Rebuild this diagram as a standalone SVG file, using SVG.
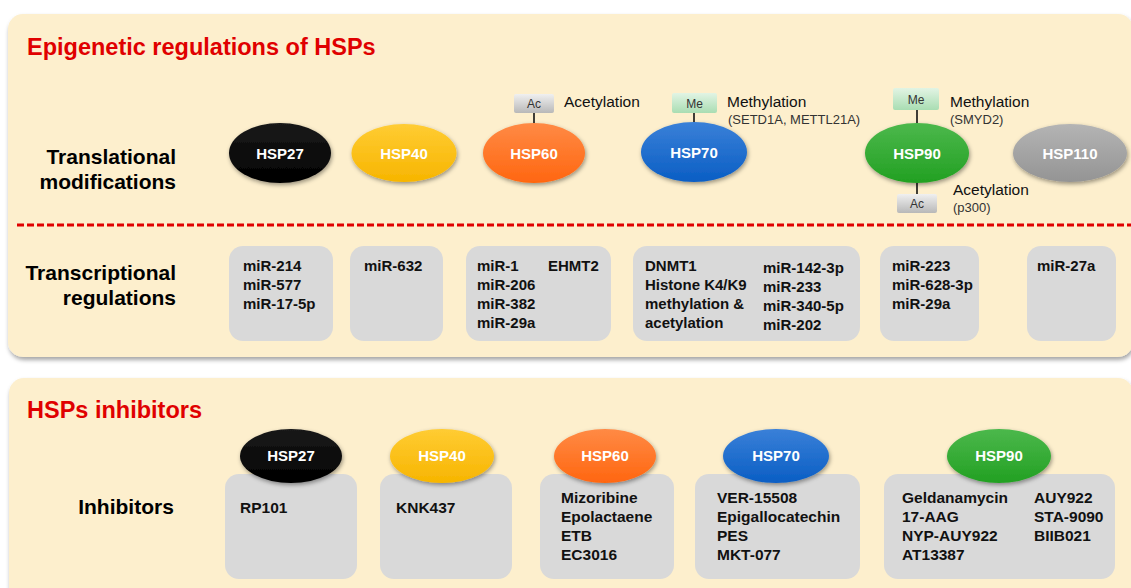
<svg xmlns="http://www.w3.org/2000/svg" width="1131" height="588" viewBox="0 0 1131 588">
<defs>
  <style>
    text { font-family: "Liberation Sans", Arial, sans-serif; }
    .title { font-size: 23.5px; font-weight: bold; fill: #E00000; }
    .row { font-size: 21px; font-weight: bold; fill: #000; text-anchor: end; }
    .hsp { font-size: 15px; font-weight: bold; fill: #fff; text-anchor: middle; }
    .box { fill: #D9D9D9; }
    .t1 { font-size: 15px; font-weight: bold; fill: #111; }
    .t2 { font-size: 15.5px; font-weight: bold; fill: #111; }
    .ann { font-size: 15.5px; fill: #111; }
    .sub { font-size: 13px; fill: #333; }
    .tag { font-size: 12px; fill: #333; text-anchor: middle; }
    .conn { stroke: #111; stroke-width: 1.6; fill: none; }
    .panel { fill: #FDEFCD; }
  </style>
  <filter id="pshadow" x="-5%" y="-5%" width="110%" height="115%">
    <feDropShadow dx="1" dy="3" stdDeviation="2" flood-color="#000" flood-opacity="0.35"/>
  </filter>
  <filter id="eshadow" x="-20%" y="-20%" width="140%" height="150%">
    <feDropShadow dx="1" dy="2" stdDeviation="2" flood-color="#000" flood-opacity="0.4"/>
  </filter>
  <linearGradient id="gBlack" x1="0" y1="0" x2="0" y2="1"><stop offset="0" stop-color="#1a1a1a"/><stop offset="1" stop-color="#000"/></linearGradient>
  <linearGradient id="gYellow" x1="0" y1="0" x2="0" y2="1"><stop offset="0" stop-color="#FFCC33"/><stop offset="1" stop-color="#F7B500"/></linearGradient>
  <linearGradient id="gOrange" x1="0" y1="0" x2="0" y2="1"><stop offset="0" stop-color="#FF8A45"/><stop offset="1" stop-color="#FF6610"/></linearGradient>
  <linearGradient id="gBlue" x1="0" y1="0" x2="0" y2="1"><stop offset="0" stop-color="#3A80D8"/><stop offset="1" stop-color="#0A5EC4"/></linearGradient>
  <linearGradient id="gGreen" x1="0" y1="0" x2="0" y2="1"><stop offset="0" stop-color="#4CB84C"/><stop offset="1" stop-color="#22A022"/></linearGradient>
  <linearGradient id="gGray" x1="0" y1="0" x2="0" y2="1"><stop offset="0" stop-color="#B4B4B4"/><stop offset="1" stop-color="#949494"/></linearGradient>
  <linearGradient id="gAc" x1="0" y1="0" x2="0" y2="1"><stop offset="0" stop-color="#F0F0F0"/><stop offset="1" stop-color="#B8B8B8"/></linearGradient>
  <linearGradient id="gMe" x1="0" y1="0" x2="0" y2="1"><stop offset="0" stop-color="#E2F4E4"/><stop offset="1" stop-color="#A9DDB2"/></linearGradient>
</defs>

<rect x="0" y="0" width="1131" height="588" fill="#fff"/>

<!-- Panels -->
<g id="panel-epigenetic">
  <rect class="panel" x="8" y="14" width="1125" height="343" rx="15" filter="url(#pshadow)"/>
  <text class="title" x="27" y="55">Epigenetic regulations of HSPs</text>
  <text class="row" x="176" y="164">Translational</text>
  <text class="row" x="176" y="189">modifications</text>
  <line x1="17" y1="225" x2="1131" y2="225" stroke="#E00000" stroke-width="3" stroke-dasharray="7,3"/>
  <text class="row" x="176" y="280">Transcriptional</text>
  <text class="row" x="176" y="305">regulations</text>
</g>
<g id="panel-inhibitors">
  <rect class="panel" x="9" y="378" width="1124" height="230" rx="15" filter="url(#pshadow)"/>
  <text class="title" x="27" y="418">HSPs inhibitors</text>
  <text class="row" x="126" y="514" style="text-anchor:middle">Inhibitors</text>
</g>

<!-- Connectors -->
<g id="connectors">
  <line class="conn" x1="534" y1="112" x2="534" y2="123"/>
  <line class="conn" x1="694" y1="112" x2="694" y2="122"/>
  <line class="conn" x1="917" y1="110" x2="917" y2="123"/>
  <line class="conn" x1="917" y1="183" x2="917" y2="194"/>
</g>

<!-- Modification tags -->
<g id="tag-hsp60-ac">
  <rect x="514" y="94" width="40" height="19" rx="2" fill="url(#gAc)"/>
  <text class="tag" x="534" y="108">Ac</text>
  <text class="ann" x="564" y="107">Acetylation</text>
</g>
<g id="tag-hsp70-me">
  <rect x="672" y="93" width="45" height="20" rx="2" fill="url(#gMe)"/>
  <text class="tag" x="694.5" y="107.5">Me</text>
  <text class="ann" x="727" y="107">Methylation</text>
  <text class="sub" x="728" y="124">(SETD1A, METTL21A)</text>
</g>
<g id="tag-hsp90-me">
  <rect x="893" y="88" width="46" height="22" rx="2" fill="url(#gMe)"/>
  <text class="tag" x="916" y="103.5">Me</text>
  <text class="ann" x="950" y="107">Methylation</text>
  <text class="sub" x="950" y="124">(SMYD2)</text>
</g>
<g id="tag-hsp90-ac">
  <rect x="897" y="194" width="40" height="19" rx="2" fill="url(#gAc)"/>
  <text class="tag" x="917" y="208">Ac</text>
  <text class="ann" x="953" y="195">Acetylation</text>
  <text class="sub" x="953" y="212">(p300)</text>
</g>

<!-- Row 1 HSP ellipses -->
<g id="hsp27-top"><ellipse cx="280" cy="153" rx="51" ry="30" fill="url(#gBlack)" filter="url(#eshadow)"/><text class="hsp" x="280" y="158.5">HSP27</text></g>
<g id="hsp40-top"><ellipse cx="404" cy="153" rx="52.5" ry="29" fill="url(#gYellow)" filter="url(#eshadow)"/><text class="hsp" x="404" y="158.5">HSP40</text></g>
<g id="hsp60-top"><ellipse cx="534" cy="153" rx="51" ry="30" fill="url(#gOrange)" filter="url(#eshadow)"/><text class="hsp" x="534" y="158.5">HSP60</text></g>
<g id="hsp70-top"><ellipse cx="694" cy="152" rx="53" ry="30" fill="url(#gBlue)" filter="url(#eshadow)"/><text class="hsp" x="694" y="157.5">HSP70</text></g>
<g id="hsp90-top"><ellipse cx="917" cy="153" rx="52" ry="30" fill="url(#gGreen)" filter="url(#eshadow)"/><text class="hsp" x="917" y="158.5">HSP90</text></g>
<g id="hsp110-top"><ellipse cx="1070" cy="153" rx="57" ry="29" fill="url(#gGray)" filter="url(#eshadow)"/><text class="hsp" x="1070" y="158.5">HSP110</text></g>

<!-- Row 1 transcriptional boxes -->
<g id="tr-hsp27">
  <rect class="box" x="229" y="246" width="104" height="95" rx="14"/>
  <text class="t1" x="243" y="271">miR-214</text>
  <text class="t1" x="243" y="290">miR-577</text>
  <text class="t1" x="243" y="309">miR-17-5p</text>
</g>
<g id="tr-hsp40">
  <rect class="box" x="350" y="246" width="93" height="95" rx="14"/>
  <text class="t1" x="364" y="271">miR-632</text>
</g>
<g id="tr-hsp60">
  <rect class="box" x="466" y="246" width="145" height="95" rx="14"/>
  <text class="t1" x="477" y="271">miR-1</text>
  <text class="t1" x="477" y="290">miR-206</text>
  <text class="t1" x="477" y="309">miR-382</text>
  <text class="t1" x="477" y="328">miR-29a</text>
  <text class="t1" x="548" y="271">EHMT2</text>
</g>
<g id="tr-hsp70">
  <rect class="box" x="633" y="246" width="227" height="95" rx="14"/>
  <text class="t1" x="645" y="271">DNMT1</text>
  <text class="t1" x="645" y="290">Histone K4/K9</text>
  <text class="t1" x="645" y="309">methylation &amp;</text>
  <text class="t1" x="645" y="328">acetylation</text>
  <text class="t1" x="763" y="273">miR-142-3p</text>
  <text class="t1" x="763" y="292">miR-233</text>
  <text class="t1" x="763" y="311">miR-340-5p</text>
  <text class="t1" x="763" y="330">miR-202</text>
</g>
<g id="tr-hsp90">
  <rect class="box" x="880" y="246" width="99" height="95" rx="14"/>
  <text class="t1" x="892" y="271">miR-223</text>
  <text class="t1" x="892" y="290">miR-628-3p</text>
  <text class="t1" x="892" y="309">miR-29a</text>
</g>
<g id="tr-hsp110">
  <rect class="box" x="1027" y="246" width="89" height="95" rx="14"/>
  <text class="t1" x="1037" y="271">miR-27a</text>
</g>

<!-- Row 2 inhibitor boxes -->
<g id="inh-hsp27">
  <rect class="box" x="225" y="474" width="132" height="105" rx="14"/>
  <ellipse cx="291" cy="456" rx="51" ry="27" fill="url(#gBlack)" filter="url(#eshadow)"/>
  <text class="hsp" x="291" y="461">HSP27</text>
  <text class="t2" x="240" y="513">RP101</text>
</g>
<g id="inh-hsp40">
  <rect class="box" x="380" y="474" width="132" height="105" rx="14"/>
  <ellipse cx="442" cy="456" rx="52" ry="27" fill="url(#gYellow)" filter="url(#eshadow)"/>
  <text class="hsp" x="442" y="461">HSP40</text>
  <text class="t2" x="396" y="513">KNK437</text>
</g>
<g id="inh-hsp60">
  <rect class="box" x="540" y="474" width="134" height="105" rx="14"/>
  <ellipse cx="605" cy="456" rx="51" ry="27" fill="url(#gOrange)" filter="url(#eshadow)"/>
  <text class="hsp" x="605" y="461">HSP60</text>
  <text class="t2" x="561" y="503">Mizoribine</text>
  <text class="t2" x="561" y="522">Epolactaene</text>
  <text class="t2" x="561" y="541">ETB</text>
  <text class="t2" x="561" y="560">EC3016</text>
</g>
<g id="inh-hsp70">
  <rect class="box" x="695" y="474" width="165" height="105" rx="14"/>
  <ellipse cx="776" cy="456" rx="53" ry="27" fill="url(#gBlue)" filter="url(#eshadow)"/>
  <text class="hsp" x="776" y="461">HSP70</text>
  <text class="t2" x="717" y="503">VER-15508</text>
  <text class="t2" x="717" y="522">Epigallocatechin</text>
  <text class="t2" x="717" y="541">PES</text>
  <text class="t2" x="717" y="560">MKT-077</text>
</g>
<g id="inh-hsp90">
  <rect class="box" x="884" y="474" width="231" height="105" rx="14"/>
  <ellipse cx="999" cy="456" rx="52" ry="27" fill="url(#gGreen)" filter="url(#eshadow)"/>
  <text class="hsp" x="999" y="461">HSP90</text>
  <text class="t2" x="902" y="503">Geldanamycin</text>
  <text class="t2" x="902" y="522">17-AAG</text>
  <text class="t2" x="902" y="541">NYP-AUY922</text>
  <text class="t2" x="902" y="560">AT13387</text>
  <text class="t2" x="1034" y="503">AUY922</text>
  <text class="t2" x="1034" y="522">STA-9090</text>
  <text class="t2" x="1034" y="541">BIIB021</text>
</g>
</svg>
